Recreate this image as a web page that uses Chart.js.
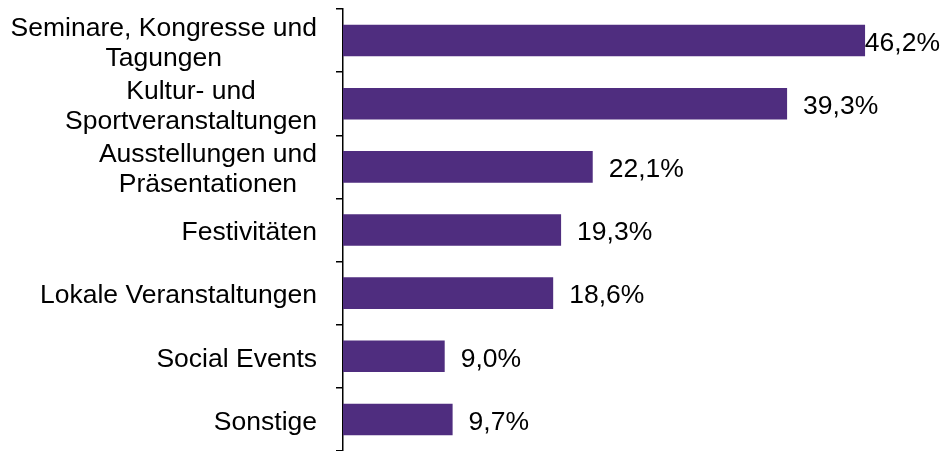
<!DOCTYPE html>
<html>
<head>
<meta charset="utf-8">
<script src="https://cdn.jsdelivr.net/npm/chart.js@4"></script>
<style>
  body { margin: 0; background: #fff; }
  #wrap { width: 941px; height: 451px; position: relative; }
</style>
</head>
<body>
<div id="wrap"><canvas id="chart"></canvas></div>
<script>
// categories (multi-line ones as arrays) and values in percent
const categories = [
  ["Seminare, Kongresse und", "Tagungen"],
  ["Kultur- und", "Sportveranstaltungen"],
  ["Ausstellungen und", "Präsentationen"],
  "Festivitäten",
  "Lokale Veranstaltungen",
  "Social Events",
  "Sonstige"
];
const shares = [46.2, 39.3, 22.1, 19.3, 18.6, 9.0, 9.7];

const FONT = "26.5px 'Liberation Sans', Arial, sans-serif";
const barColor = "#4f2d7f";

// draws category labels (lines centered in a right-aligned block) and value labels
const labelPlugin = {
  id: "labels",
  afterDatasetsDraw(chart) {
    const ctx = chart.ctx;
    const yScale = chart.scales.y;
    ctx.save();
    ctx.font = FONT;
    ctx.fillStyle = "#000";
    ctx.textBaseline = "middle";

    // left labels
    const rightEdge = 317;
    const lineH = 30;
    categories.forEach((cat, i) => {
      const lines = Array.isArray(cat) ? cat : [cat];
      const widths = lines.map(l => ctx.measureText(l).width);
      const blockW = Math.max(...widths);
      const cx = rightEdge - blockW / 2;
      const cy = yScale.getPixelForValue(i) + 3;
      ctx.textAlign = "center";
      lines.forEach((l, k) => {
        const y = cy + (k - (lines.length - 1) / 2) * lineH;
        ctx.fillText(l, cx, y);
      });
    });

    // value labels
    const meta = chart.getDatasetMeta(0);
    ctx.textAlign = "left";
    meta.data.forEach((bar, i) => {
      const txt = shares[i].toFixed(1).replace(".", ",") + "%";
      const w = ctx.measureText(txt).width;
      let x = bar.x + 16;
      if (x + w > chart.width - 1) x = chart.width - 1 - w;
      ctx.fillText(txt, x, bar.y + 3);
    });
    ctx.restore();
  }
};

new Chart(document.getElementById("chart"), {
  type: "bar",
  data: {
    labels: categories,
    datasets: [{
      data: shares,
      backgroundColor: barColor,
      borderWidth: 0,
      barPercentage: 0.5,
      categoryPercentage: 1.0
    }]
  },
  options: {
    indexAxis: "y",
    responsive: true,
    maintainAspectRatio: false,
    animation: false,
    layout: { padding: { top: 9, right: 33, bottom: 0, left: 0 } },
    plugins: {
      legend: { display: false },
      tooltip: { enabled: false }
    },
    scales: {
      x: {
        display: false,
        min: 0,
        max: 50
      },
      y: {
        afterFit(scale) { scale.width = 343; },
        ticks: { display: false },
        grid: {
          offset: true,
          drawOnChartArea: false,
          drawTicks: true,
          tickLength: 7,
          color: "#000",
          lineWidth: 1.5
        },
        border: { display: true, color: "#000", width: 1.5 }
      }
    }
  },
  plugins: [labelPlugin]
});
</script>
</body>
</html>
